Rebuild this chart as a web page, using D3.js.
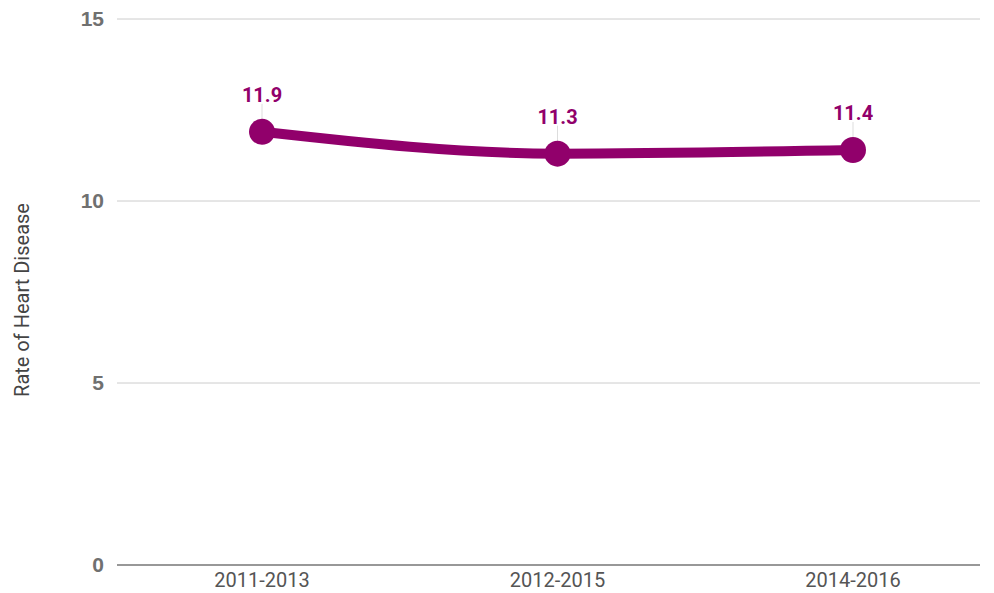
<!DOCTYPE html>
<html>
<head>
<meta charset="utf-8">
<script src="https://cdn.jsdelivr.net/npm/d3@7"></script>
<style>
  body { margin: 0; background: #fff; }
  text { font-family: Roboto, "Noto Sans", sans-serif; }
</style>
</head>
<body>
<div id="chart"></div>
<script>
// data
var periods = ["2011-2013", "2012-2015", "2014-2016"];
var rates = [11.9, 11.3, 11.4];
var yTicks = [0, 5, 10, 15];

var svgWidth = 994, svgHeight = 593;
var margin = {top: 19, right: 14, bottom: 28, left: 117};
var chartWidth = svgWidth - margin.left - margin.right;
var chartHeight = svgHeight - margin.top - margin.bottom;

var svg = d3.select("#chart").append("svg")
    .attr("width", svgWidth)
    .attr("height", svgHeight);

var g = svg.append("g")
    .attr("transform", `translate(${margin.left}, ${margin.top})`);

// points sit at 145 / 441 / 736 inside the plot
var x = d3.scalePoint().domain(periods).range([145, 736]);
var y = d3.scaleLinear().domain([0, 15]).range([chartHeight, 0]);

// gridlines
g.selectAll(".grid").data(yTicks.filter(d => d > 0)).enter().append("line")
    .attr("x1", 0).attr("x2", chartWidth)
    .attr("y1", d => y(d)).attr("y2", d => y(d))
    .attr("stroke", "#cccccc").attr("stroke-width", 1);

// baseline
g.append("line")
    .attr("x1", 0).attr("x2", chartWidth)
    .attr("y1", y(0)).attr("y2", y(0))
    .attr("stroke", "#333").attr("stroke-width", 1.2);

// y tick labels
g.selectAll(".ytick").data(yTicks).enter().append("text")
    .attr("x", -13).attr("y", d => y(d))
    .attr("dy", "0.35em")
    .attr("text-anchor", "end")
    .style("font-family", "'Liberation Sans', Arial, sans-serif")
    .attr("font-size", 21).attr("font-weight", "bold")
    .attr("fill", "#707070")
    .text(d => d);

// x labels
g.selectAll(".xtick").data(periods).enter().append("text")
    .attr("x", d => x(d)).attr("y", chartHeight + 22)
    .attr("text-anchor", "middle")
    .attr("font-size", 20)
    .attr("fill", "#555")
    .text(d => d);

// y axis title
svg.append("text")
    .attr("transform", `translate(29, 300) rotate(-90)`)
    .attr("text-anchor", "middle")
    .attr("font-size", 20)
    .attr("fill", "#444")
    .text("Rate of Heart Disease");

var pts = periods.map((p, i) => ({p: p, v: rates[i]}));
var color = "#91006b";

// leader lines
g.selectAll(".leader").data(pts).enter().append("line")
    .attr("x1", d => x(d.p)).attr("x2", d => x(d.p))
    .attr("y1", d => y(d.v) - 28).attr("y2", d => y(d.v))
    .attr("stroke", "#ddd").attr("stroke-width", 1);

var line = d3.line()
    .x(d => x(d.p)).y(d => y(d.v))
    .curve(d3.curveMonotoneX);

g.append("path").datum(pts)
    .attr("d", line)
    .attr("fill", "none")
    .attr("stroke", color)
    .attr("stroke-width", 10);

g.selectAll(".dot").data(pts).enter().append("circle")
    .attr("cx", d => x(d.p)).attr("cy", d => y(d.v))
    .attr("r", 13)
    .attr("fill", color);

g.selectAll(".lbl").data(pts).enter().append("text")
    .attr("x", d => x(d.p)).attr("y", d => y(d.v) - 37)
    .attr("dy", "0.35em")
    .attr("text-anchor", "middle")
    .attr("font-size", 20).attr("font-weight", "bold")
    .attr("fill", color)
    .text(d => d.v);
</script>
</body>
</html>
